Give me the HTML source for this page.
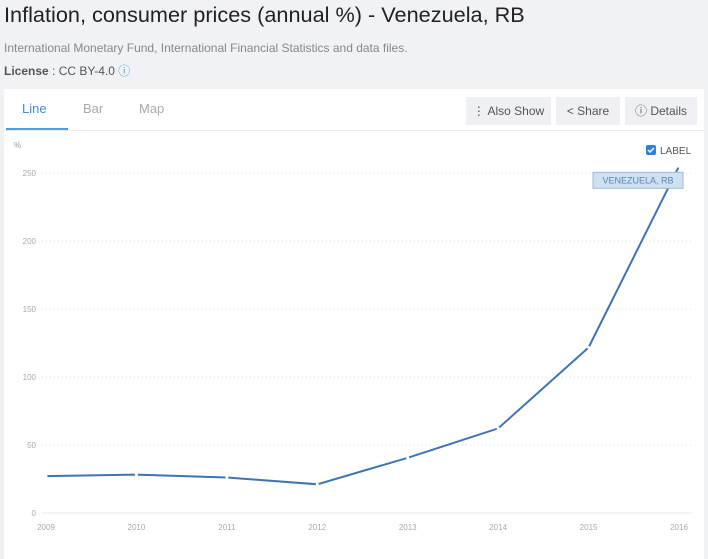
<!DOCTYPE html>
<html><head><meta charset="utf-8"><style>
body{margin:0;width:708px;height:548px;background:#f1f2f6;font-family:"Liberation Sans",sans-serif;overflow:hidden;position:relative}
.t{position:absolute;left:4px;top:2px;font-size:21.7px;color:#222}
.s{position:absolute;left:4px;top:41px;font-size:12px;color:#888}
.l{position:absolute;left:4px;top:62px;font-size:12px;color:#555}
.card{position:absolute;left:4px;top:89px;width:700px;height:470px;background:#fff}
.tab{position:absolute;top:12px;font-size:13px;color:#aaa}
.btn{position:absolute;top:8px;height:28px;background:#eef0f3;font-size:12px;color:#555;line-height:28px;text-align:center}
</style></head><body>
<div class="t">Inflation, consumer prices (annual %) - Venezuela, RB</div>
<div class="s">International Monetary Fund, International Financial Statistics and data files.</div>
<div class="l"><b>License</b> : CC BY-4.0 <span style="color:#4a90e2">ⓘ</span></div>
<div class="card">
<div class="tab" style="left:18px;color:#3a8ee6">Line</div>
<div style="position:absolute;left:2px;top:39px;width:62px;height:2px;background:#4a9be8"></div>
<div class="tab" style="left:79px">Bar</div>
<div class="tab" style="left:135px">Map</div>
<div style="position:absolute;left:0;top:41px;width:700px;height:1px;background:#e8eaee"></div>
<div class="btn" style="left:462px;width:85px">⋮ Also Show</div>
<div class="btn" style="left:552px;width:64px">&lt; Share</div>
<div class="btn" style="left:621px;width:72px">ⓘ Details</div>
</div>
<svg id="c" width="708" height="548" style="position:absolute;left:0;top:0"></svg>
<script>
const years=[2009,2010,2011,2012,2013,2014,2015,2016];
const values=[27.1,28.2,26.1,21.1,40.6,62.2,121.7,254.9];
const yTicks=[0,50,100,150,200,250];
const svg=document.getElementById('c');const NS='http://www.w3.org/2000/svg';
const x=i=>46+i*(679-46)/(years.length-1);
const y=v=>513-v*1.36;
function mk(t,a,txt){const e=document.createElementNS(NS,t);for(const k in a)e.setAttribute(k,a[k]);if(txt!=null)e.textContent=txt;svg.appendChild(e);return e;}
mk('text',{x:14,y:148,'font-size':8,fill:'#999','font-family':'Liberation Sans'},'%');
yTicks.forEach(v=>{
 const g=mk('line',{x1:42,x2:692,y1:y(v),y2:y(v),stroke:v?'#ddd':'#e4e8ee','stroke-dasharray':v?'1,3':'',});
 
 
 const t=mk('text',{x:36,y:y(v)+3,'font-size':8,fill:'#aaa','text-anchor':'end','font-family':'Liberation Sans'},v);
 
 
});
years.forEach((yr,i)=>{
 const t=mk('text',{x:x(i),y:530,'font-size':8,fill:'#aaa','text-anchor':'middle','font-family':'Liberation Sans'},yr);
 
 
});
const p=mk('polyline',{points:values.map((v,i)=>x(i)+','+y(v)).join(' '),fill:'none',stroke:'#3c74b4','stroke-width':2});


values.forEach((v,i)=>{const c=mk('circle',{cx:x(i),cy:y(v),r:1.5,fill:'#fff'});
 
 });
const li=values.length-1;
const r=mk('rect',{x:593,y:y(values[li])+6,width:90,height:16,fill:'#cfe0f0',stroke:'#9dbbd8'});


mk('text',{x:638,y:y(values[li])+17,'font-size':9,fill:'#5a86b5','text-anchor':'middle','font-family':'Liberation Sans'},'VENEZUELA, RB');
const cb=mk('rect',{x:646,y:145,width:10,height:10,rx:2,fill:'#2f7fe0'});


mk('path',{d:'M648 150 l2 2 l4 -4',stroke:'#fff','stroke-width':1.5,fill:'none'});
mk('text',{x:660,y:154,'font-size':10,fill:'#555','font-family':'Liberation Sans'},'LABEL');
</script>
</body></html>
